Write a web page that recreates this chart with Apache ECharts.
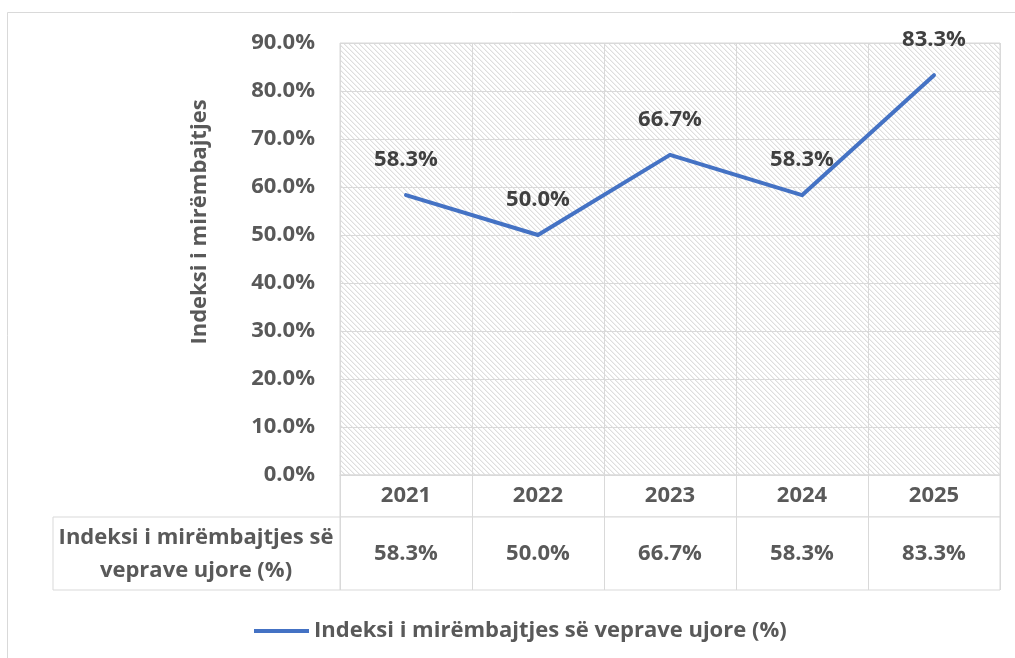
<!DOCTYPE html>
<html>
<head>
<meta charset="utf-8">
<script src="https://cdn.jsdelivr.net/npm/echarts@6/dist/echarts.min.js"></script>
<style>
  html, body { margin: 0; padding: 0; background: #fff; }
  #chart { width: 1015px; height: 658px; }
</style>
</head>
<body>
<div id="chart"></div>
<script>
const years = ['2021', '2022', '2023', '2024', '2025'];
const values = [58.3, 50.0, 66.7, 58.3, 83.3];
const seriesName = 'Indeksi i mirëmbajtjes së veprave ujore (%)';
const rowLabel = 'Indeksi i mirëmbajtjes së\nveprave ujore (%)';
const yTitle = 'Indeksi i mirëmbajtjes';

const FONT = 'Open Sans';
const GREY = '#595959';
const LINE = '#d9d9d9';
const FS = 22;

// diagonal hatch tile for the plot background
function hatch() {
  const n = 5;
  const c = document.createElement('canvas');
  c.width = n; c.height = n;
  const ctx = c.getContext('2d');
  ctx.fillStyle = '#fff';
  ctx.fillRect(0, 0, n, n);
  for (let i = 0; i < n; i++) {
    ctx.fillStyle = '#dedede';
    ctx.fillRect(i, i, 1, 1);
    ctx.fillStyle = '#f1f1f1';
    ctx.fillRect((i + 1) % n, i, 1, 1);
  }
  return { image: c, repeat: 'repeat' };
}

const pct = v => v.toFixed(1) + '%';

const chart = echarts.init(document.getElementById('chart'));
chart.setOption({
  animation: false,
  backgroundColor: '#fff',
  textStyle: { fontFamily: FONT },
  grid: [
    { left: 340, top: 43, width: 660, height: 432, show: true, backgroundColor: hatch(), borderColor: LINE, borderWidth: 1 },
    { left: 340, top: 475, width: 660, height: 42, show: true, backgroundColor: '#fff', borderColor: LINE, borderWidth: 1 },
    { left: 340, top: 517, width: 660, height: 73, show: true, backgroundColor: '#fff', borderColor: LINE, borderWidth: 1 },
    { left: 53, top: 517, width: 287, height: 73, show: true, backgroundColor: '#fff', borderColor: LINE, borderWidth: 1 }
  ],
  xAxis: [
    {
      gridIndex: 0, type: 'category', data: years, boundaryGap: true,
      axisLine: { lineStyle: { color: LINE } }, axisTick: { show: false },
      splitLine: { show: true, lineStyle: { color: LINE, width: 1 } },
      axisLabel: { margin: 10, color: GREY, fontSize: FS, fontWeight: 'bold', fontFamily: FONT }
    },
    {
      gridIndex: 1, type: 'category', data: years,
      axisLine: { show: false }, axisTick: { show: false }, axisLabel: { show: false },
      splitLine: { show: true, lineStyle: { color: LINE } }
    },
    {
      gridIndex: 2, type: 'category', data: years,
      axisLine: { show: false }, axisTick: { show: false }, axisLabel: { show: false },
      splitLine: { show: true, lineStyle: { color: LINE } }
    },
    { gridIndex: 3, type: 'category', data: [''], show: false }
  ],
  yAxis: [
    {
      gridIndex: 0, type: 'value', min: 0, max: 90, interval: 10,
      axisLine: { show: false }, axisTick: { show: false },
      splitLine: { lineStyle: { color: LINE, width: 1 } },
      axisLabel: { margin: 25, color: GREY, fontSize: FS, fontWeight: 'bold', fontFamily: FONT, formatter: v => pct(v) }
    },
    { gridIndex: 1, type: 'value', show: false, splitLine: { show: false } },
    { gridIndex: 2, type: 'value', min: 0, max: 1, show: false, splitLine: { show: false } },
    { gridIndex: 3, type: 'value', show: false, splitLine: { show: false } }
  ],
  legend: {
    left: 249, top: 615,
    itemWidth: 55, itemHeight: 12,
    data: [{ name: seriesName, icon: 'path://M0,0 L55,0 L55,4 L0,4 Z', itemStyle: { color: '#4472C4' } }],
    textStyle: { color: GREY, fontSize: FS, fontWeight: 'bold', fontFamily: FONT }
  },
  graphic: [
    {
      type: 'rect', silent: true, z: -1,
      shape: { x: 7.5, y: 12.5, width: 1100, height: 700 },
      style: { fill: 'none', stroke: '#d9d9d9', lineWidth: 1 }
    },
    {
      type: 'text', x: 200, y: 222, rotation: Math.PI / 2,
      style: { text: yTitle, fill: GREY, font: 'bold 22px "Open Sans"', align: 'center', verticalAlign: 'middle' }
    },
    {
      type: 'text', x: 196, y: 554,
      style: { text: rowLabel, fill: GREY, font: 'bold 22px "Open Sans"', align: 'center', verticalAlign: 'middle', lineHeight: 33 }
    }
  ],
  series: [
    {
      name: seriesName, type: 'line', xAxisIndex: 0, yAxisIndex: 0,
      data: values, symbol: 'circle', symbolSize: 0.1, showSymbol: true,
      lineStyle: { color: '#4472C4', width: 4, cap: 'round', join: 'round' },
      itemStyle: { color: '#4472C4' },
      label: {
        show: true, position: 'top', distance: 24,
        color: '#404040', fontSize: FS, fontWeight: 'bold', fontFamily: FONT,
        formatter: p => pct(p.value)
      }
    },
    {
      type: 'scatter', xAxisIndex: 2, yAxisIndex: 2, symbolSize: 0.1, silent: true,
      itemStyle: { opacity: 1 },
      data: values.map((v, i) => [years[i], 0.5, v]),
      label: {
        show: true, position: 'inside', opacity: 1,
        color: GREY, fontSize: FS, fontWeight: 'bold', fontFamily: FONT,
        formatter: p => pct(p.value[2])
      }
    }
  ]
});
</script>
</body>
</html>
